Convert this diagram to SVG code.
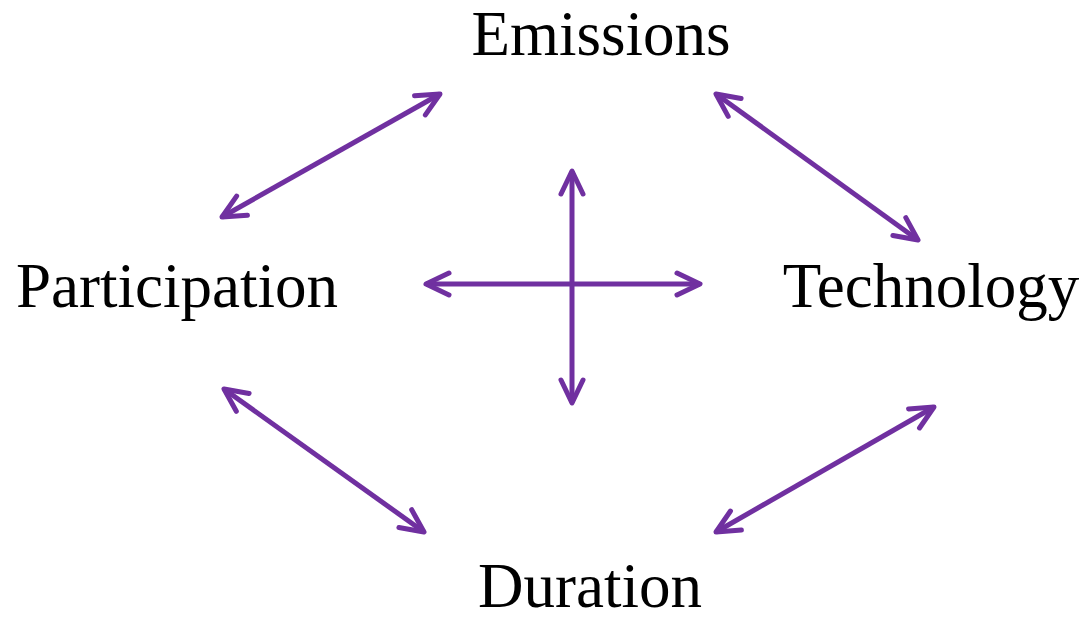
<svg xmlns="http://www.w3.org/2000/svg" width="1089" height="617" viewBox="0 0 1089 617">
<defs>
<style>
.lbl{font-family:"Liberation Serif","Times New Roman",serif;font-size:63px;fill:#000;text-anchor:middle}
.con{stroke:#7030A0;stroke-width:5;fill:none;marker-start:url(#ah);marker-end:url(#ah)}
</style>
<marker id="ah" markerUnits="userSpaceOnUse" orient="auto-start-reverse" viewBox="-30 -15 34 30" refX="0" refY="0" markerWidth="34" markerHeight="30" overflow="visible">
<path d="M-23,-11 L0,0 L-23,11" fill="none" stroke="#7030A0" stroke-width="5" stroke-linecap="round" stroke-linejoin="round"/>
</marker>
</defs>
<rect width="1089" height="617" fill="#fff"/>
<g id="emissions"><text class="lbl" x="601" y="55">Emissions</text></g>
<g id="participation"><text class="lbl" x="177" y="307">Participation</text></g>
<g id="technology"><text class="lbl" x="931" y="307">Technology</text></g>
<g id="duration"><text class="lbl" x="590" y="607">Duration</text></g>
<g id="connectors">
<line class="con" x1="222" y1="217" x2="440" y2="94"/>
<line class="con" x1="716" y1="94" x2="918" y2="240"/>
<line class="con" x1="224" y1="389" x2="424" y2="532"/>
<line class="con" x1="934" y1="407" x2="716" y2="532"/>
<line class="con" x1="426" y1="284" x2="700" y2="284"/>
<line class="con" x1="572" y1="171" x2="572" y2="403"/>
</g>
</svg>
